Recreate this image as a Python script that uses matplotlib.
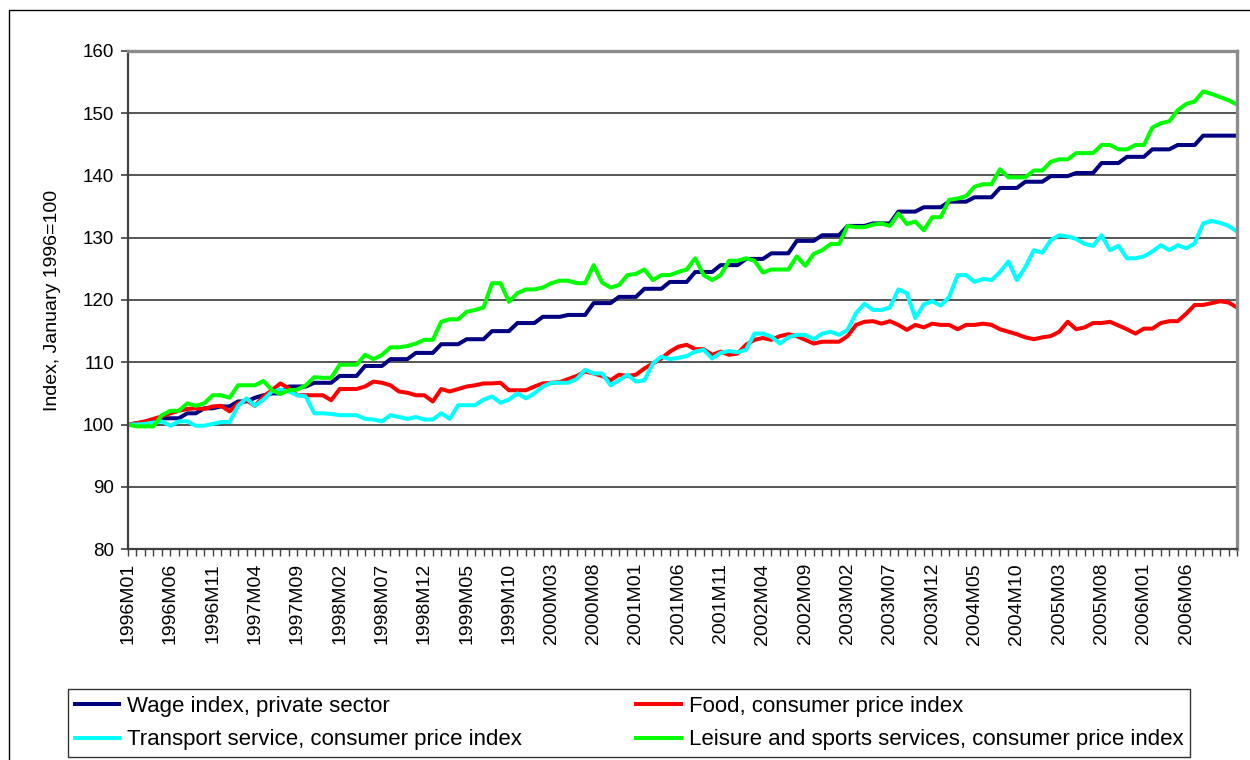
import matplotlib
matplotlib.use("Agg")
import matplotlib.pyplot as plt
from matplotlib.patches import Rectangle

plt.rcParams['font.family'] = ['Liberation Sans', 'DejaVu Sans']

# monthly categories 1996M01 .. 2006M12
months = [f"{y}M{m:02d}" for y in range(1996, 2007) for m in range(1, 13)]

wage = [
    100.0, 100.2, 100.4, 100.6, 101.0, 101.0, 101.0, 101.8, 101.8, 102.6, 102.6, 102.9,
    102.9, 103.7, 103.7, 104.3, 104.7, 105.0, 105.0, 106.1, 106.1, 106.1, 106.7, 106.7,
    106.7, 107.8, 107.8, 107.8, 109.4, 109.4, 109.4, 110.5, 110.5, 110.5, 111.5, 111.5,
    111.5, 112.9, 112.9, 112.9, 113.7, 113.7, 113.7, 115.0, 115.0, 115.0, 116.3, 116.3,
    116.3, 117.3, 117.3, 117.3, 117.6, 117.6, 117.6, 119.5, 119.5, 119.5, 120.5, 120.5,
    120.5, 121.8, 121.8, 121.8, 122.9, 122.9, 122.9, 124.5, 124.5, 124.5, 125.6, 125.6,
    125.6, 126.6, 126.6, 126.6, 127.5, 127.5, 127.5, 129.5, 129.5, 129.5, 130.4, 130.4,
    130.4, 131.9, 131.9, 131.9, 132.3, 132.3, 132.3, 134.2, 134.2, 134.2, 134.9, 134.9,
    134.9, 135.8, 135.8, 135.8, 136.5, 136.5, 136.5, 138.0, 138.0, 138.0, 139.0, 139.0,
    139.0, 139.9, 139.9, 139.9, 140.4, 140.4, 140.4, 142.0, 142.0, 142.0, 143.0, 143.0,
    143.0, 144.2, 144.2, 144.2, 144.9, 144.9, 144.9, 146.4, 146.4, 146.4, 146.4, 146.4,
]

food = [
    100.0, 100.2, 100.5, 100.9, 101.3, 101.8, 102.2, 102.5, 102.6, 102.5, 102.9, 103.0,
    102.1, 103.4, 103.9, 103.0, 104.5, 105.5, 106.6, 105.8, 104.7, 104.7, 104.7, 104.7,
    103.9, 105.7, 105.7, 105.7, 106.1, 106.9, 106.7, 106.3, 105.3, 105.1, 104.7, 104.7,
    103.7, 105.7, 105.3, 105.7, 106.1, 106.3, 106.6, 106.6, 106.7, 105.5, 105.5, 105.5,
    106.1, 106.6, 106.7, 106.8, 107.3, 107.8, 108.5, 108.2, 107.8, 107.1, 108.0, 107.8,
    108.0, 109.0, 109.8, 110.6, 111.7, 112.5, 112.8, 112.1, 112.1, 111.2, 111.7, 111.2,
    111.4, 112.8, 113.6, 113.9, 113.6, 114.2, 114.5, 114.2, 113.6, 113.0, 113.3, 113.3,
    113.3, 114.2, 116.0, 116.5, 116.6, 116.2, 116.6, 116.0, 115.2, 116.0, 115.6, 116.2,
    116.0, 116.0, 115.3, 116.0, 116.0, 116.2, 116.0, 115.3, 114.9, 114.5, 114.0, 113.7,
    114.0, 114.2, 114.9, 116.5, 115.3, 115.6, 116.3, 116.3, 116.5, 115.9, 115.3, 114.6,
    115.4, 115.4, 116.3, 116.6, 116.6, 117.8, 119.2, 119.2, 119.5, 119.8, 119.6, 118.8,
]

transport = [
    100.0, 100.0, 100.1, 100.3, 100.5, 99.8, 100.5, 100.5, 99.8, 99.8, 100.1, 100.4,
    100.4, 103.0, 104.2, 103.0, 104.0, 105.3, 105.6, 105.3, 104.7, 104.5, 101.8, 101.8,
    101.7, 101.5, 101.5, 101.5, 100.9, 100.8, 100.5, 101.5, 101.2, 100.9, 101.2, 100.8,
    100.8, 101.8, 100.9, 103.1, 103.1, 103.1, 104.0, 104.5, 103.5, 104.0, 105.0, 104.2,
    105.0, 106.1, 106.7, 106.7, 106.7, 107.3, 108.8, 108.2, 108.2, 106.3, 107.1, 108.0,
    106.9, 107.1, 109.8, 110.9, 110.5, 110.7, 111.0, 111.7, 112.0, 110.6, 111.5, 111.8,
    111.6, 112.0, 114.6, 114.6, 114.1, 113.0, 114.0, 114.4, 114.4, 113.7, 114.6, 114.9,
    114.4, 115.2, 117.9, 119.4, 118.4, 118.4, 118.8, 121.7, 121.1, 117.1, 119.3, 119.8,
    119.1, 120.5, 124.0, 124.0, 122.9, 123.4, 123.2, 124.5, 126.2, 123.2, 125.3, 128.0,
    127.6, 129.6, 130.4, 130.2, 129.8, 129.0, 128.7, 130.4, 128.0, 128.7, 126.7, 126.7,
    127.0, 127.8, 128.8, 128.0, 128.8, 128.3, 129.1, 132.3, 132.7, 132.4, 131.9, 131.0,
]

leisure = [
    100.0, 99.7, 99.7, 99.7, 101.5, 102.2, 102.2, 103.4, 103.0, 103.4, 104.7, 104.7,
    104.3, 106.3, 106.3, 106.3, 107.0, 105.5, 104.9, 105.5, 105.6, 106.3, 107.6, 107.5,
    107.5, 109.6, 109.6, 109.6, 111.2, 110.5, 111.2, 112.4, 112.4, 112.6, 113.0, 113.6,
    113.6, 116.5, 116.9, 116.9, 118.1, 118.4, 118.8, 122.7, 122.7, 119.7, 121.1, 121.7,
    121.7, 122.0, 122.7, 123.1, 123.1, 122.7, 122.7, 125.6, 122.8, 122.0, 122.4, 124.0,
    124.2, 124.9, 123.2, 124.0, 124.0, 124.5, 124.9, 126.7, 124.0, 123.2, 124.0, 126.3,
    126.3, 126.7, 126.3, 124.4, 124.9, 124.9, 124.9, 127.0, 125.5, 127.4, 128.0, 129.0,
    129.0, 131.9, 131.7, 131.7, 132.1, 132.3, 131.9, 133.9, 132.2, 132.6, 131.2, 133.3,
    133.3, 136.1, 136.3, 136.7, 138.2, 138.6, 138.6, 141.0, 139.7, 139.7, 139.7, 140.8,
    140.8, 142.2, 142.6, 142.6, 143.6, 143.6, 143.6, 144.9, 144.9, 144.2, 144.2, 144.9,
    144.9, 147.7, 148.4, 148.7, 150.5, 151.5, 151.9, 153.5, 153.1, 152.6, 152.1, 151.4,
]

series_names = [
    "Wage index, private sector",
    "Food, consumer price index",
    "Transport service, consumer price index",
    "Leisure and sports services, consumer price index",
]
colors = ['#000080', '#FF0000', '#00FFFF', '#00FF00']

fig = plt.figure(figsize=(12.5, 7.6), dpi=100)
ax = fig.add_axes([128 / 1250, 1 - 549 / 760, (1237 - 128) / 1250, (549 - 51) / 760])

x = list(range(len(months)))
lines = []
for vals, name, c in zip([wage, food, transport, leisure], series_names, colors):
    ln, = ax.plot(x, vals, color=c, lw=2.9, label=name, solid_joinstyle='round')
    lines.append(ln)

ax.set_xlim(0, len(months) - 1)
ax.set_ylim(80, 160)
ax.set_yticks(range(80, 161, 10))
ax.yaxis.grid(True, color='#555555', lw=1.4)
ax.set_axisbelow(True)

# labels every 5 months, last one shown is 2006M06
ax.set_xticks(x, minor=True)
ax.set_xticks(x[:126:5])
ax.set_xticklabels(months[:126:5], rotation=90, fontsize=14)
ax.tick_params(axis='x', which='both', length=5, width=1, color='#404040', pad=5)
ax.tick_params(axis='y', length=5, width=1.2, color='#404040', labelsize=13.5, pad=5)
ax.set_ylabel('Index, January 1996=100', fontsize=14, labelpad=16)

for side in ['top', 'right']:
    ax.spines[side].set_color('#8c8c8c')
    ax.spines[side].set_linewidth(2.4)
for side in ['left', 'bottom']:
    ax.spines[side].set_color('#404040')
    ax.spines[side].set_linewidth(1.6)

# legend box at the bottom, two columns
leg = fig.legend(handles=[lines[0], lines[2], lines[1], lines[3]],
                 labels=[series_names[0], series_names[2], series_names[1], series_names[3]],
                 ncol=2, loc='lower left', mode='expand',
                 bbox_to_anchor=(68 / 1250, 3 / 760, (1190 - 68) / 1250, 75 / 760),
                 fontsize=16, frameon=True, fancybox=False, handlelength=2.0,
                 handletextpad=0.35, labelspacing=0.55, borderaxespad=0, borderpad=0.3)
leg.get_frame().set_edgecolor('black')
leg.get_frame().set_linewidth(1.0)

# outer chart border
fig.add_artist(Rectangle((9 / 1250, -0.02), 1.0, 1 - 10 / 760 + 0.02, fill=False,
                         edgecolor='black', lw=1.0, transform=fig.transFigure))

fig.savefig('out.png', dpi=100)
